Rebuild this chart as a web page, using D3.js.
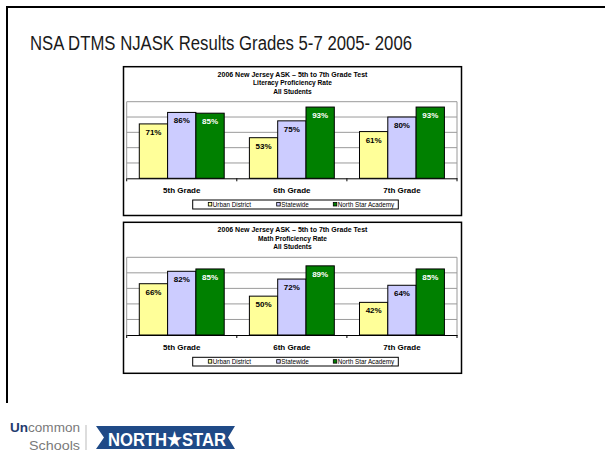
<!DOCTYPE html>
<html><head><meta charset="utf-8">
<script src="https://cdn.jsdelivr.net/npm/d3@7"></script>
<style>body{margin:0;background:#fff}svg{display:block}</style>
</head><body>
<svg id="c" width="605" height="454"></svg>
<script>
const categories = ["5th Grade", "6th Grade", "7th Grade"];
const seriesNames = ["Urban District", "Statewide", "North Star Academy"];
const literacyUrban = [71, 53, 61];
const literacyState = [86, 75, 80];
const literacyNSA = [85, 93, 93];
const mathUrban = [66, 50, 42];
const mathState = [82, 72, 64];
const mathNSA = [85, 89, 85];
const gridTicks = [0, 20, 40, 60, 80, 100];
const colors = ["#FFFF99", "#CCCCFF", "#008000"];
const labelColors = ["#000", "#000", "#fff"];

const svg = d3.select("#c");
const F = "Arial, 'Liberation Sans', sans-serif";
const FN = "'Liberation Sans Narrow', 'Arial Narrow', Arial, sans-serif";

// slide border
svg.append("path").attr("d","M7,403 L7,7 L605,7").attr("fill","none").attr("stroke","#000").attr("stroke-width",2);

svg.append("text").attr("x",30).attr("y",50).attr("font-family",F).attr("font-size",20)
  .attr("fill","#1a1a1a").attr("textLength",382).attr("lengthAdjust","spacingAndGlyphs")
  .text("NSA DTMS NJASK Results Grades 5-7 2005- 2006");

function drawChart(cfg) {
  const g = svg.append("g");
  g.append("rect").attr("x",cfg.box[0]).attr("y",cfg.box[1]).attr("width",cfg.box[2]-cfg.box[0])
    .attr("height",cfg.box[3]-cfg.box[1]).attr("fill","#fff").attr("stroke","#000").attr("stroke-width",1.5);
  const cx = (cfg.box[0]+cfg.box[2])/2;
  cfg.titles.forEach((t,i)=>{
    g.append("text").attr("x",cx).attr("y",cfg.titleY[i]).attr("text-anchor","middle")
      .attr("font-family",F).attr("font-weight","bold").attr("font-size",i==0?7:6.6).attr("fill","#000").text(t);
  });
  const x0 = d3.scaleBand().domain(categories).range([cfg.left, cfg.right]).padding(0);
  const x1 = d3.scaleBand().domain(seriesNames).range([0, x0.bandwidth()]).paddingInner(0).paddingOuter(0.445);
  const y = d3.scaleLinear().domain([0,100]).range([cfg.bottom, cfg.top]);
  g.append("g").selectAll("line").data(gridTicks.slice(1)).join("line")
    .attr("x1",cfg.left).attr("x2",cfg.right).attr("y1",d=>y(d)).attr("y2",d=>y(d))
    .attr("stroke","#9a9a9a").attr("stroke-width",1);
  g.append("line").attr("x1",cfg.left).attr("x2",cfg.left).attr("y1",y(100)).attr("y2",y(0)).attr("stroke","#9a9a9a");
  g.append("line").attr("x1",cfg.right).attr("x2",cfg.right).attr("y1",y(100)).attr("y2",y(0)).attr("stroke","#9a9a9a");
  const series = cfg.values;
  categories.forEach((c,ci)=>{
    series.forEach((vals,si)=>{
      const v = vals[ci];
      const bx = x0(c)+x1(seriesNames[si]);
      g.append("rect").attr("x",bx).attr("y",y(v)).attr("width",x1.bandwidth()).attr("height",y(0)-y(v))
        .attr("fill",colors[si]).attr("stroke","#000").attr("stroke-width",1);
      g.append("text").attr("x",bx+x1.bandwidth()/2).attr("y",y(v)+11).attr("text-anchor","middle")
        .attr("font-family",F).attr("font-weight","bold").attr("font-size",8).attr("fill",labelColors[si]).text(v+"%");
    });
  });
  const ax = g.append("g").attr("transform",`translate(0,${y(0)})`)
    .call(d3.axisBottom(x0).tickSize(0).tickPadding(9));
  ax.select(".domain").attr("stroke","#000").attr("stroke-width",1);
  ax.selectAll("text").attr("font-family",F).attr("font-weight","bold").attr("font-size",8).attr("fill","#000");
  const bounds = [cfg.left].concat(categories.map(c=>x0(c)+x0.bandwidth()));
  ax.selectAll("line.sep").data(bounds).join("line").attr("class","sep")
    .attr("x1",d=>d).attr("x2",d=>d).attr("y1",0).attr("y2",3).attr("stroke","#000");
  const L = cfg.legend;
  g.append("rect").attr("x",L[0]).attr("y",L[1]).attr("width",L[2]-L[0]).attr("height",L[3]-L[1])
    .attr("fill","#fff").attr("stroke","#000").attr("stroke-width",1);
  const lx = [208.3, 276.7, 333.3];
  const my = (L[1]+L[3])/2;
  seriesNames.forEach((s,i)=>{
    g.append("rect").attr("x",lx[i]).attr("y",my-2).attr("width",3.5).attr("height",3.5)
      .attr("fill",colors[i]).attr("stroke","#000").attr("stroke-width",0.8);
    g.append("text").attr("x",lx[i]+4.5).attr("y",my+2.3).attr("font-family",F).attr("font-size",6.3)
      .attr("fill","#000").text(s);
  });
}

drawChart({
  box:[123.5,66.7,461.5,215.5],
  titles:["2006 New Jersey ASK \u2013 5th to 7th Grade Test","Literacy Proficiency Rate","All Students"],
  titleY:[76.5,85.2,93.5],
  left:126.7,right:457,top:101.7,bottom:178.3,
  values:[literacyUrban, literacyState, literacyNSA],
  legend:[192.7,200,398.3,209]
});
drawChart({
  box:[123.5,222.3,461.5,373.3],
  titles:["2006 New Jersey ASK \u2013 5th to 7th Grade Test","Math Proficiency Rate","All Students"],
  titleY:[231.8,240.7,249],
  left:126.7,right:457,top:257.3,bottom:335,
  values:[mathUrban, mathState, mathNSA],
  legend:[192.7,357.3,398.3,366]
});

// logo
const lg = svg.append("g");
const t1 = lg.append("text").attr("x",10).attr("y",432).attr("font-family",FN).attr("font-size",13.5)
  .attr("textLength",70).attr("lengthAdjust","spacingAndGlyphs");
t1.append("tspan").attr("fill","#1f3b6e").attr("font-weight","bold").text("Un");
t1.append("tspan").attr("fill","#7a7a7a").text("common");
lg.append("text").attr("x",80).attr("y",450).attr("text-anchor","end").attr("font-family",FN).attr("font-size",13.5)
  .attr("fill","#7a7a7a").attr("textLength",51).attr("lengthAdjust","spacingAndGlyphs").text("Schools");
lg.append("line").attr("x1",86).attr("x2",86).attr("y1",425).attr("y2",450).attr("stroke","#bbb");
lg.append("path").attr("d","M96,426 L235,426 L228,437.5 L235,449 L96,449 L104,437.5 Z").attr("fill","#1f4a87");
lg.append("text").attr("x",108).attr("y",445.5).attr("font-family",FN).attr("font-weight","bold").attr("font-size",19)
  .attr("fill","#fff").attr("textLength",118).attr("lengthAdjust","spacingAndGlyphs").text("NORTH\u2605STAR");
</script>
</body></html>
